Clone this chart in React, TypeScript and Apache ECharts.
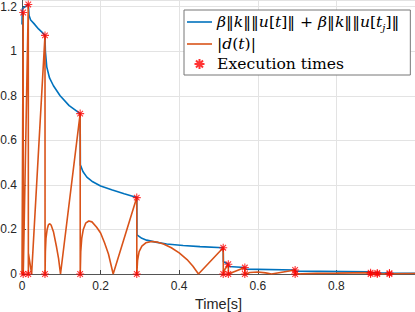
import React, { useEffect, useRef } from 'react';
import * as echarts from 'echarts';

// threshold: beta||k|| ||u[t]|| + beta||k|| ||u[t_j]||
const thresholdT = [0, 0.0008, 0.004, 0.016, 0.018, 0.022, 0.03, 0.042, 0.05, 0.0585, 0.0595, 0.063, 0.07, 0.08, 0.097, 0.12, 0.148, 0.1485, 0.155, 0.165, 0.18, 0.2, 0.23, 0.26, 0.292, 0.2925, 0.305, 0.317, 0.34, 0.368, 0.41, 0.453, 0.512, 0.5125, 0.525, 0.5255, 0.567, 0.5675, 0.695, 0.6955, 0.885, 0.8855, 0.904, 0.935, 1.0];
const thresholdV = [1.12, 1.19, 1.195, 1.21, 1.16, 1.14, 1.125, 1.1, 1.087, 1.071, 1.0, 0.93, 0.88, 0.845, 0.8, 0.756, 0.72, 0.49, 0.46, 0.435, 0.414, 0.395, 0.377, 0.36, 0.343, 0.176, 0.16, 0.152, 0.143, 0.135, 0.128, 0.123, 0.118, 0.055, 0.044, 0.034, 0.029, 0.022, 0.018, 0.013, 0.01, 0.006, 0.005, 0.004, 0.003];

// |d(t)|
const disturbanceT = [0, 0.003, 0.0032, 0.016, 0.0162, 0.0166, 0.0245, 0.0585, 0.0587, 0.0595, 0.061, 0.064, 0.067, 0.07, 0.074, 0.08, 0.088, 0.093, 0.098, 0.148, 0.1482, 0.1495, 0.152, 0.156, 0.162, 0.17, 0.178, 0.19, 0.2, 0.21, 0.22, 0.232, 0.292, 0.2922, 0.294, 0.298, 0.305, 0.315, 0.33, 0.345, 0.36, 0.38, 0.4, 0.42, 0.435, 0.449, 0.512, 0.5122, 0.516, 0.525, 0.5252, 0.567, 0.5672, 0.58, 0.6, 0.62, 0.635, 0.695, 0.6952, 0.75, 0.8, 0.885, 0.8852, 1.0];
const disturbanceV = [0, 1.174, 0, 1.21, 0, 0.09, 0, 1.071, 0, 0.1, 0.16, 0.2, 0.22, 0.226, 0.22, 0.19, 0.12, 0.07, 0, 0.72, 0, 0.1, 0.16, 0.2, 0.228, 0.238, 0.234, 0.21, 0.184, 0.14, 0.09, 0, 0.343, 0, 0.06, 0.1, 0.125, 0.14, 0.146, 0.143, 0.135, 0.118, 0.095, 0.065, 0.035, 0, 0.118, 0, 0.02, 0.044, 0, 0.029, 0, 0.007, 0.009, 0.005, 0, 0.018, 0, 0.003, 0.004, 0.006, 0, 0.002];

// execution times
const execT = [0.003, 0.016, 0.0585, 0.148, 0.292, 0.512, 0.525, 0.567, 0.695, 0.887, 0.904, 0.935];
const execV = [1.174, 1.21, 1.071, 0.72, 0.343, 0.118, 0.044, 0.029, 0.018, 0.006, 0.005, 0.004];

const xTicks = [0, 0.2, 0.4, 0.6, 0.8];
const yTicks = [0, 0.2, 0.4, 0.6, 0.8, 1, 1.2];

const ASTERISK = 'path://M5,0L5,10M0,5L10,5M1.5,1.5L8.5,8.5M1.5,8.5L8.5,1.5';
const LINE_ICON = 'path://M0,0L25,0L25,1.6L0,1.6Z';

const serif = 'DejaVu Serif';
const sans = 'Liberation Sans';

export default function App() {
  const ref = useRef<HTMLDivElement>(null);
  useEffect(() => {
    const chart = echarts.init(ref.current!, null, { renderer: 'svg' });
    const pairs = (t: number[], v: number[]) => t.map((x, i) => [x, v[i]]);
    const execData = [
      ...pairs(execT, execV),
      ...execT.map((x) => [x, 0]),
    ];
    const axisCommon = {
      type: 'value' as const,
      axisLine: { show: true, lineStyle: { color: '#555', width: 1 } },
      axisTick: { show: true, inside: true, length: 4, lineStyle: { color: '#444' } },
      splitLine: { show: true, lineStyle: { color: '#e3e3e3', width: 1 } },
      axisLabel: {
        color: '#262626',
        fontFamily: sans,
        fontSize: 12,
        showMaxLabel: false,
      },
    };
    const fs = 15.6;
    chart.setOption({
      animation: false,
      backgroundColor: '#fff',
      grid: { left: 22, top: 0, width: 393, height: 274, containLabel: false, outerBoundsMode: 'none' },
      xAxis: {
        ...axisCommon,
        min: xTicks[0],
        max: 1,
        interval: xTicks[1] - xTicks[0],
        name: 'Time[s]',
        nameLocation: 'middle',
        nameGap: 21,
        nameTextStyle: { color: '#262626', fontFamily: sans, fontSize: 14.5 },
        axisLabel: { ...axisCommon.axisLabel, margin: 6 },
      },
      yAxis: {
        ...axisCommon,
        min: yTicks[0],
        max: 1.23,
        interval: yTicks[1] - yTicks[0],
        axisLabel: { ...axisCommon.axisLabel, margin: 5 },
      },
      legend: {
        orient: 'vertical',
        left: 184,
        top: 10,
        itemWidth: 25,
        itemHeight: 10,
        itemGap: 4,
        padding: [4, 11, 3, 3],
        borderColor: '#777',
        borderWidth: 1,
        backgroundColor: '#fff',
        symbolKeepAspect: true,
        data: [
          { name: 'threshold', icon: LINE_ICON },
          { name: 'd', icon: LINE_ICON },
          { name: 'Execution times' },
        ],
        formatter: (name: string) => {
          if (name === 'threshold') {
            return '{i|β}{r|‖}{i|k}{r|‖‖}{i|u}{r|[}{i|t}{r|]‖ + }{i|β}{r|‖}{i|k}{r|‖‖}{i|u}{r|[}{i|t}{s|j}{r|]‖}';
          }
          if (name === 'd') {
            return '{r||}{i|d}{r|(}{i|t}{r|)|}';
          }
          return '{r|Execution times}';
        },
        textStyle: {
          fontFamily: serif,
          fontSize: fs,
          color: '#000',
          rich: {
            i: { fontFamily: serif, fontStyle: 'italic', fontSize: fs, lineHeight: 20, color: '#000' },
            r: { fontFamily: serif, fontSize: fs, lineHeight: 20, color: '#000' },
            s: { fontFamily: serif, fontStyle: 'italic', fontSize: 10, lineHeight: 12, verticalAlign: 'bottom', color: '#000' },
          },
        },
      },
      series: [
        {
          name: 'threshold',
          type: 'line',
          data: pairs(thresholdT, thresholdV),
          symbol: 'none',
          color: '#0072BD',
          itemStyle: { color: '#0072BD' },
          lineStyle: { color: '#0072BD', width: 1.6 },
          z: 2,
        },
        {
          name: 'd',
          type: 'line',
          data: pairs(disturbanceT, disturbanceV),
          symbol: 'none',
          color: '#D95319',
          itemStyle: { color: '#D95319' },
          lineStyle: { color: '#D95319', width: 1.6 },
          z: 3,
        },
        {
          name: 'Execution times',
          type: 'scatter',
          data: execData,
          symbol: ASTERISK,
          symbolSize: 8,
          itemStyle: { color: 'rgba(255,0,0,0)', borderColor: '#ff0000', borderWidth: 1.1 },
          z: 4,
        },
      ],
    });
    return () => chart.dispose();
  }, []);
  return <div ref={ref} style={{ position: 'fixed', left: 0, top: 0, width: 415, height: 312 }} />;
}
